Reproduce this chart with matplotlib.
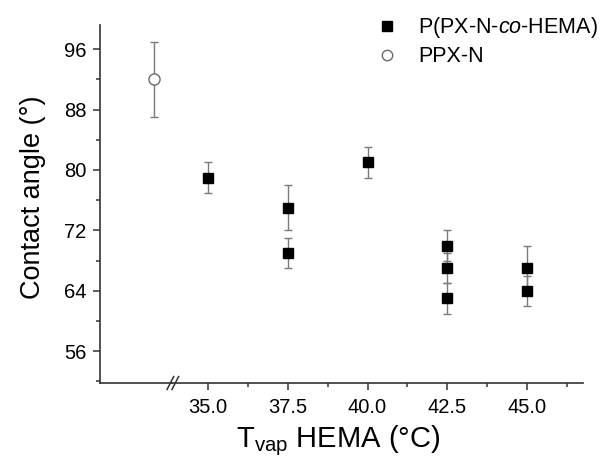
import numpy as np
import matplotlib.pyplot as plt
from matplotlib.ticker import MultipleLocator
from matplotlib.lines import Line2D

plt.rcParams['font.family'] = ['Liberation Sans', 'DejaVu Sans']
plt.rcParams['mathtext.fontset'] = 'custom'
plt.rcParams['mathtext.rm'] = 'Liberation Sans'
plt.rcParams['mathtext.it'] = 'Liberation Sans:italic'

# -- data ------------------------------------------------------------
t_vap = [35.0, 37.5, 37.5, 40.0, 42.5, 42.5, 42.5, 45.0, 45.0]
angle = [79, 75, 69, 81, 70, 67, 63, 67, 64]
angle_err = [2, 3, 2, 2, 2, 2, 2, 3, 2]

ppx_angle = [92]
ppx_err = [5]
ppx_pos = [0]          # category slot left of the axis break

# -- layout ----------------------------------------------------------
fig = plt.figure(figsize=(6.1, 4.59), dpi=100)
ax_l = fig.add_axes([0.164, 0.1656, 0.118, 0.78])
ax_r = fig.add_axes([0.282, 0.1656, 0.674, 0.78], sharey=ax_l)

err_kw = dict(ecolor='#7a7a7a', elinewidth=1.0, capsize=3, capthick=1.0,
              linestyle='none')

ax_l.errorbar(ppx_pos, ppx_angle, yerr=ppx_err, marker='o', ms=8,
              mfc='white', mec='#6a6a6a', mew=1.0, **err_kw)
ax_r.errorbar(t_vap, angle, yerr=angle_err, marker='s', ms=7.5,
              mfc='black', mec='black', **err_kw)

ax_l.set_xlim(-3, 1)
ax_r.set_xlim(33.87, 46.76)
ax_l.set_ylim(51.8, 99.2)

for ax in (ax_l, ax_r):
    ax.spines['top'].set_visible(False)
    ax.spines['right'].set_visible(False)
    for s in ax.spines.values():
        s.set_color('#333333')
        s.set_linewidth(1.2)
ax_r.spines['left'].set_visible(False)

ax_l.set_xticks([])
ax_l.set_yticks([56, 64, 72, 80, 88, 96])
ax_l.yaxis.set_minor_locator(MultipleLocator(4))
ax_l.tick_params(axis='y', which='major', direction='out', length=5,
                 width=1.1, labelsize=14.5, color='#333333', pad=5)
ax_l.tick_params(axis='y', which='minor', direction='out', length=3,
                 width=1.1, color='#333333')

ax_r.tick_params(axis='y', which='both', left=False, labelleft=False)
ax_r.set_xticks([35.0, 37.5, 40.0, 42.5, 45.0])
ax_r.set_xticklabels(['35.0', '37.5', '40.0', '42.5', '45.0'])
ax_r.xaxis.set_minor_locator(MultipleLocator(1.25))
ax_r.tick_params(axis='x', which='major', direction='out', length=5,
                 width=1.1, labelsize=14.5, color='#333333', pad=6)
ax_r.tick_params(axis='x', which='minor', direction='out', length=3,
                 width=1.1, color='#333333')

# axis break marks
for dx in (0.0, 0.012):
    ax_r.plot([dx - 0.012, dx + 0.004], [-0.018, 0.018],
              transform=ax_r.transAxes, color='#333333', lw=1.1,
              clip_on=False)

ax_l.set_ylabel('Contact angle (°)', fontsize=19.5)
ax_l.yaxis.set_label_coords(-0.75, 0.52)
fig.text(0.555, 0.026, r'T$_{\mathrm{vap}}$ HEMA (°C)', fontsize=21,
         ha='center', va='baseline')

handles = [Line2D([], [], marker='s', ms=7, color='black', ls='none'),
           Line2D([], [], marker='o', ms=7.5, mfc='white', mec='#6a6a6a',
                  mew=1.0, ls='none')]
fig.legend(handles, [r'P(PX-N-$\it{co}$-HEMA)', 'PPX-N'],
           loc='upper left', bbox_to_anchor=(0.596, 0.995), frameon=False,
           fontsize=15.5, handletextpad=0.95, labelspacing=0.28,
           handlelength=1.0, borderaxespad=0.2)

fig.savefig('out.png', dpi=100)
